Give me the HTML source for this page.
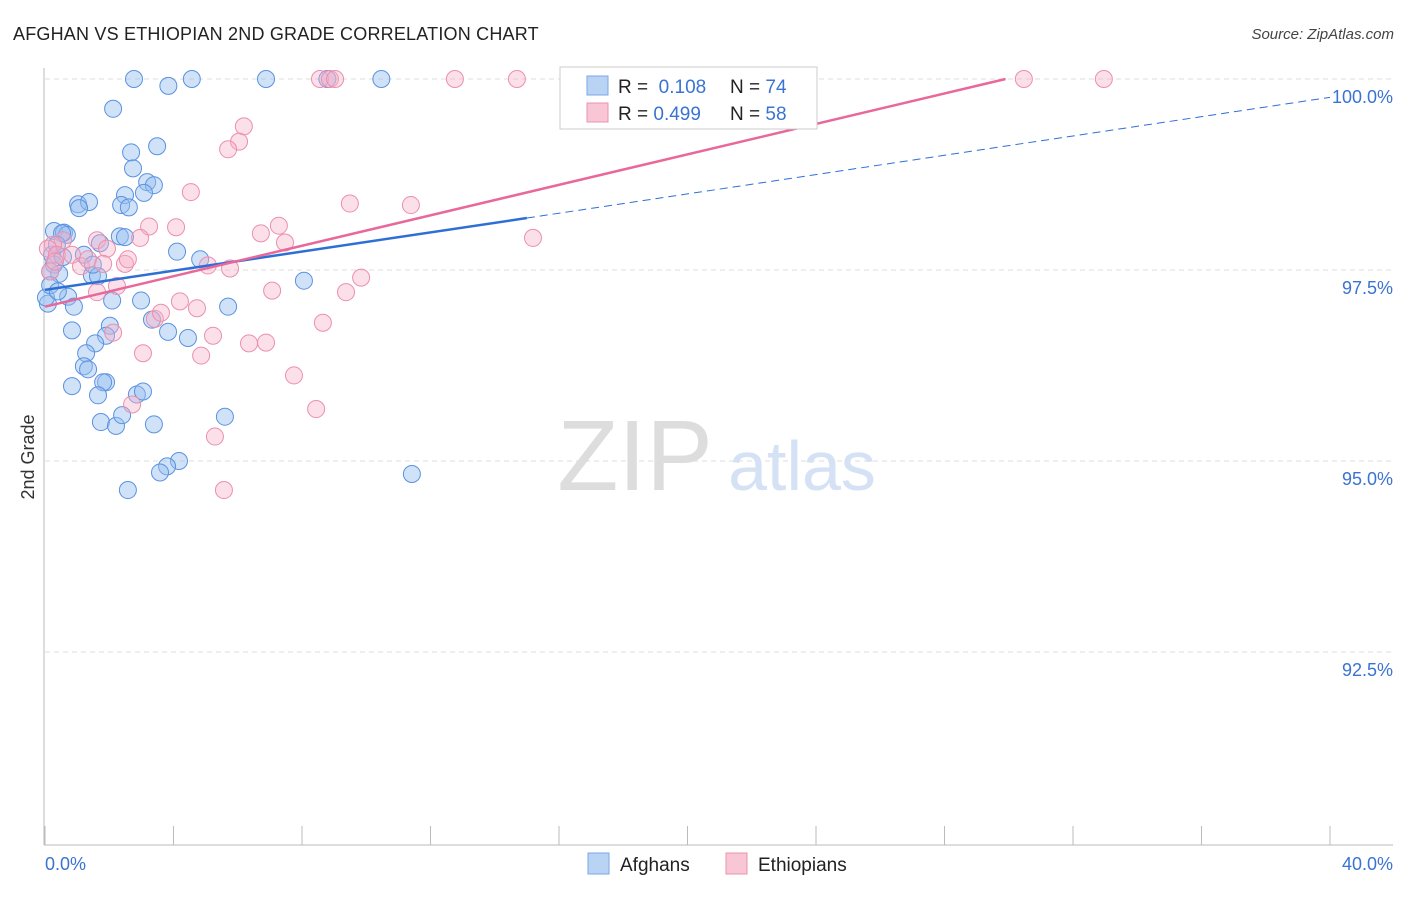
<!DOCTYPE html>
<html><head><meta charset="utf-8"><style>
body{margin:0;background:#fff;font-family:"Liberation Sans",sans-serif;}
svg text{font-family:"Liberation Sans",sans-serif;}
</style></head><body>
<svg id="chart" width="1406" height="892" xmlns="http://www.w3.org/2000/svg">
<text x="13" y="40" font-size="18" fill="#222" letter-spacing="0.2">AFGHAN VS ETHIOPIAN 2ND GRADE CORRELATION CHART</text>
<text x="1394" y="39" font-size="15" fill="#444" font-style="italic" text-anchor="end">Source: ZipAtlas.com</text>
<text transform="translate(34,457) rotate(-90)" font-size="18" fill="#333" text-anchor="middle">2nd Grade</text>
<g id="grid"></g>
<g>
<text x="635" y="490" font-size="100" fill="#ddd" font-family="Liberation Serif" text-anchor="middle">ZIP</text>
<text x="802" y="490" font-size="70" fill="#d5e2f5" text-anchor="middle">atlas</text>
</g>
<g id="points"></g>
<g id="lines"></g>
<g>
<rect x="560" y="67" width="257" height="62" fill="#fff" stroke="#ccc"/>
<rect x="587" y="76" width="21" height="19" fill="#b9d3f5" stroke="#7ba7e6"/>
<rect x="587" y="103" width="21" height="19" fill="#f8c6d5" stroke="#ec93ae"/>
<text x="618" y="93" font-size="19" fill="#222">R = <tspan fill="#3a73d1">&#160;0.108</tspan></text>
<text x="730" y="93" font-size="19" fill="#222">N = <tspan fill="#3a73d1">74</tspan></text>
<text x="618" y="120" font-size="19" fill="#222">R = <tspan fill="#3a73d1">0.499</tspan></text>
<text x="730" y="120" font-size="19" fill="#222">N = <tspan fill="#3a73d1">58</tspan></text>
</g>
<g>
<rect x="588" y="853" width="21" height="21" fill="#b9d3f5" stroke="#7ba7e6"/>
<text x="620" y="871" font-size="19" fill="#222">Afghans</text>
<rect x="726" y="853" width="21" height="21" fill="#f8c6d5" stroke="#ec93ae"/>
<text x="758" y="871" font-size="19" fill="#222">Ethiopians</text>
</g>
</svg>
<script>
const xTicks=[0,4,8,12,16,20,24,28,32,36,40];
const yTicks=[92.5,95,97.5,100];
const afghanX=[2.77,3.84,4.57,6.88,8.79,10.47,2.12,3.49,2.68,2.74,3.18,3.39,2.49,3.08,2.37,2.61,1.03,1.37,1.06,0.28,0.59,0.68,0.53,2.33,2.49,1.71,4.11,4.83,1.21,0.22,0.28,0.44,0.16,1.46,1.65,1.49,8.06,0.09,0.72,0.90,2.09,2.99,5.70,3.33,3.83,4.45,0.84,2.02,1.90,1.56,1.28,1.21,1.34,0.84,1.90,1.81,1.65,2.86,3.05,5.60,1.74,2.21,2.40,3.39,4.17,3.80,3.58,2.58,11.42,0.03,0.16,0.40,0.56,0.37];
const afghanY=[100,99.91,100,100,100,100,99.61,99.12,99.04,98.83,98.65,98.61,98.48,98.51,98.35,98.32,98.36,98.39,98.31,98.01,97.99,97.96,97.98,97.94,97.93,97.85,97.74,97.64,97.70,97.70,97.57,97.45,97.48,97.43,97.42,97.57,97.36,97.06,97.15,97.02,97.10,97.10,97.02,96.85,96.69,96.61,96.71,96.77,96.64,96.54,96.41,96.24,96.20,95.98,96.03,96.03,95.86,95.87,95.91,95.58,95.51,95.46,95.60,95.48,95.00,94.93,94.85,94.62,94.83,97.14,97.30,97.22,97.67,97.83];
const ethX=[8.56,8.87,9.03,12.76,14.69,20.70,30.47,32.96,6.19,6.04,5.70,4.54,9.49,11.39,15.19,3.24,4.08,7.28,6.72,7.47,2.96,1.62,0.56,0.25,0.09,0.37,1.93,0.84,1.12,1.34,1.81,2.49,2.58,5.07,5.76,9.84,7.07,9.37,2.24,1.62,4.20,4.73,3.42,3.61,8.65,5.23,2.12,6.35,6.88,3.05,4.86,7.75,8.44,2.71,5.29,5.57,0.16,0.31];
const ethY=[100,100,100,100,100,100,100,100,99.38,99.18,99.08,98.52,98.37,98.35,97.92,98.07,98.06,98.08,97.98,97.86,97.92,97.89,97.89,97.83,97.78,97.70,97.78,97.70,97.55,97.64,97.58,97.58,97.64,97.56,97.52,97.40,97.23,97.21,97.29,97.21,97.09,97.00,96.86,96.94,96.81,96.64,96.68,96.54,96.55,96.41,96.38,96.12,95.68,95.74,95.32,94.62,97.48,97.61];
const blueLine=[[0,97.24],[15,98.18]];
const blueDash=[[15,98.18],[40,99.76]];
const pinkLine=[[0,97.02],[29.9,100]];
const NS="http://www.w3.org/2000/svg";
const X=v=>45+v/40*1285;
const Y=v=>79+(100-v)/2.5*191;
function mk(tag,attrs,parent){const e=document.createElementNS(NS,tag);for(const k in attrs)e.setAttribute(k,attrs[k]);parent.appendChild(e);return e;}
const svg=document.getElementById('chart');
const grid=document.getElementById('grid');
yTicks.forEach(t=>{
 const l=mk('line',{x1:45,x2:1393,y1:Y(t),y2:Y(t),stroke:'#ddd','stroke-dasharray':'5,4'},grid);
 
 
 const tx=mk('text',{x:1393,y:Y(t)+24,'font-size':18,fill:'#3a73d1','text-anchor':'end'},grid);
 tx.textContent=t.toFixed(1)+'%';
 
 
});
const ax=mk('line',{x1:44,x2:1393,y1:845,y2:845,stroke:'#bbb'},grid);


const ay=mk('line',{x1:44,x2:44,y1:68,y2:845,stroke:'#bbb'},grid);


xTicks.forEach(t=>{
 const l=mk('line',{x1:X(t),x2:X(t),y1:826,y2:845,stroke:'#bbb'},grid);
 
 
});
[[0,'start',45],[40,'end',1393]].forEach(([v,a,px])=>{
 const tx=mk('text',{x:px,y:870,'font-size':18,fill:'#3a73d1','text-anchor':a},grid);
 tx.textContent=v.toFixed(1)+'%';
 
 
});
const pts=document.getElementById('points');
afghanX.forEach((x,i)=>{
 const c=mk('circle',{cx:X(x),cy:Y(afghanY[i]),r:8.5,fill:'rgba(150,190,240,0.45)',stroke:'#5a92e0','stroke-width':1},pts);
 
 
});
ethX.forEach((x,i)=>{
 const c=mk('circle',{cx:X(x),cy:Y(ethY[i]),r:8.5,fill:'rgba(245,175,200,0.4)',stroke:'#ec8fae','stroke-width':1},pts);
 
 
});
const ln=document.getElementById('lines');
const b=mk('line',{x1:X(blueLine[0][0]),y1:Y(blueLine[0][1]),x2:X(blueLine[1][0]),y2:Y(blueLine[1][1]),stroke:'#2e6fd6','stroke-width':2.5},ln);


const bd=mk('line',{x1:X(blueDash[0][0]),y1:Y(blueDash[0][1]),x2:X(blueDash[1][0]),y2:Y(blueDash[1][1]),stroke:'#2e6fd6','stroke-width':1,'stroke-dasharray':'8,5'},ln);


const p=mk('line',{x1:X(pinkLine[0][0]),y1:Y(pinkLine[0][1]),x2:X(pinkLine[1][0]),y2:Y(pinkLine[1][1]),stroke:'#e8689a','stroke-width':2.5},ln);


</script>
</body></html>
